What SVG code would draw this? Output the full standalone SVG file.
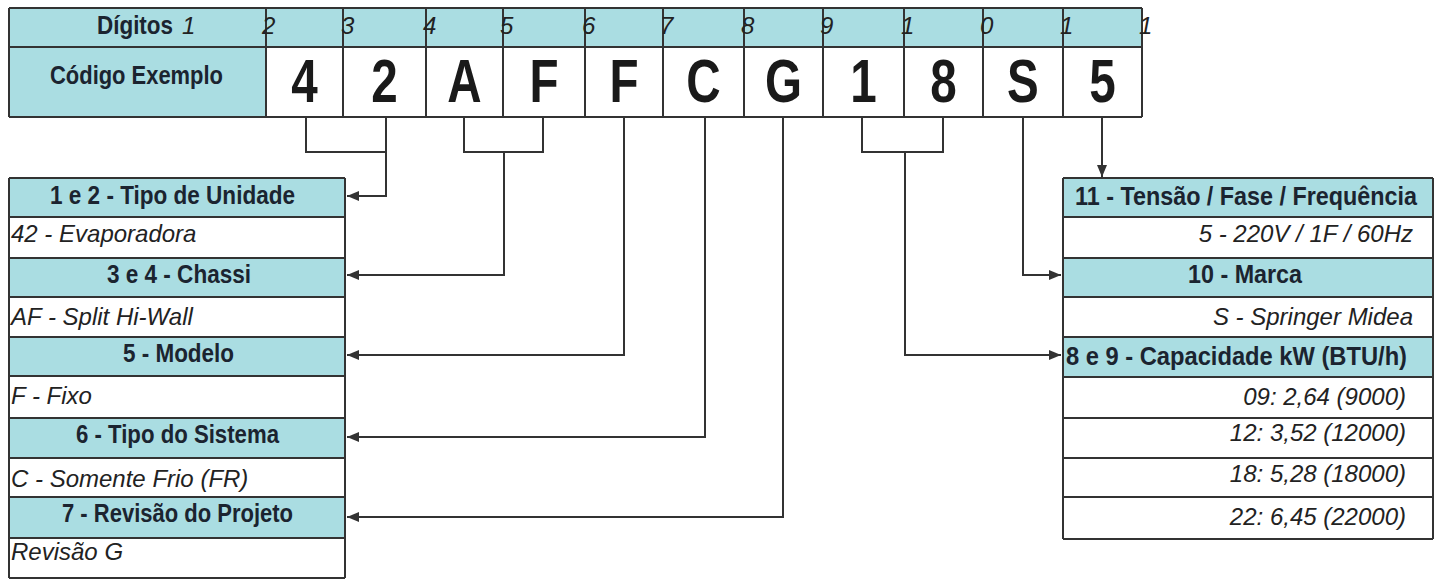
<svg xmlns="http://www.w3.org/2000/svg" width="1437" height="581" viewBox="0 0 1437 581">
<style>
.hd{fill:#aadde2}
.wh{fill:#ffffff}
.grid{stroke:#333;stroke-width:2;fill:none}
.bold{font-family:"Liberation Sans",Arial,sans-serif;font-weight:bold;font-size:25px;fill:#1b2430}
.big{font-family:"Liberation Sans",Arial,sans-serif;font-weight:bold;font-size:61px;fill:#1a1a1a;text-anchor:middle}
.it{font-family:"Liberation Sans",Arial,sans-serif;font-style:italic;font-size:24px;fill:#222}
.dg{font-family:"Liberation Sans",Arial,sans-serif;font-style:italic;font-size:24px;fill:#222}
.conn{stroke:#333;stroke-width:2;fill:none}
</style>
<defs>
<marker id="arr" markerUnits="userSpaceOnUse" markerWidth="12" markerHeight="10" refX="12" refY="5" orient="auto">
<path d="M0,0 L12,5 L0,10 z" fill="#333"/>
</marker>
</defs>
<rect width="1437" height="581" fill="#ffffff"/>

<g id="code-table">
<rect class="hd" x="9" y="8" width="1133" height="39"/>
<rect class="hd" x="9" y="47" width="257" height="70"/>
<rect class="wh" x="266" y="47" width="876" height="70"/>
<path class="grid" d="M9,8 H1142 M9,47 H1142 M9,117 H1142 M9,8 V117 M266,8 V117 M343,8 V117 M426,8 V117 M503,8 V117 M585,8 V117 M663,8 V117 M744,8 V117 M823,8 V117 M904,8 V117 M983,8 V117 M1063,8 V117 M1142,8 V117"/>
<text class="bold" x="97" y="34" textLength="76" lengthAdjust="spacingAndGlyphs">Dígitos</text>
<text class="dg" x="182" y="34">1</text>
<text class="dg" x="262" y="34">2</text>
<text class="dg" x="341" y="34">3</text>
<text class="dg" x="423" y="34">4</text>
<text class="dg" x="500" y="34">5</text>
<text class="dg" x="582" y="34">6</text>
<text class="dg" x="660" y="34">7</text>
<text class="dg" x="741" y="34">8</text>
<text class="dg" x="820" y="34">9</text>
<text class="dg" x="901" y="34">1</text>
<text class="dg" x="980" y="34">0</text>
<text class="dg" x="1060" y="34">1</text>
<text class="dg" x="1139" y="34">1</text>
<text class="bold" x="50" y="84" font-size="30" textLength="173" lengthAdjust="spacingAndGlyphs">Código Exemplo</text>
<g transform="scale(0.78,1)">
<text class="big" x="390.4" y="102">4</text>
<text class="big" x="492.9" y="102">2</text>
<text class="big" x="595.5" y="102">A</text>
<text class="big" x="697.4" y="102">F</text>
<text class="big" x="800" y="102">F</text>
<text class="big" x="901.9" y="102">C</text>
<text class="big" x="1004.5" y="102">G</text>
<text class="big" x="1107.1" y="102">1</text>
<text class="big" x="1209.6" y="102">8</text>
<text class="big" x="1311.5" y="102">S</text>
<text class="big" x="1413.5" y="102">5</text>
</g>
</g>

<g id="left-box">
<rect class="hd" x="9" y="178" width="336" height="39"/>
<rect class="hd" x="9" y="258" width="336" height="39"/>
<rect class="hd" x="9" y="337" width="336" height="39"/>
<rect class="hd" x="9" y="418" width="336" height="40"/>
<rect class="hd" x="9" y="497" width="336" height="41"/>
<path class="grid" d="M9,178 H345 M9,217 H345 M9,258 H345 M9,297 H345 M9,337 H345 M9,376 H345 M9,418 H345 M9,458 H345 M9,497 H345 M9,538 H345 M9,578 H345 M9,178 V578 M345,178 V578"/>
<text class="bold" x="50" y="204" textLength="245" lengthAdjust="spacingAndGlyphs">1 e 2 - Tipo de Unidade</text>
<text class="it" x="11" y="242">42 - Evaporadora</text>
<text class="bold" x="107" y="283" textLength="144" lengthAdjust="spacingAndGlyphs">3 e 4 - Chassi</text>
<text class="it" x="11" y="325">AF - Split Hi-Wall</text>
<text class="bold" x="123" y="362" textLength="111" lengthAdjust="spacingAndGlyphs">5 - Modelo</text>
<text class="it" x="11" y="404">F - Fixo</text>
<text class="bold" x="76" y="443" textLength="203" lengthAdjust="spacingAndGlyphs">6 - Tipo do Sistema</text>
<text class="it" x="11" y="487">C - Somente Frio (FR)</text>
<text class="bold" x="62" y="522" textLength="231" lengthAdjust="spacingAndGlyphs">7 - Revisão do Projeto</text>
<text class="it" x="11" y="560">Revisão G</text>
</g>

<g id="right-box">
<rect class="hd" x="1063" y="178" width="370" height="39"/>
<rect class="hd" x="1063" y="258" width="370" height="39"/>
<rect class="hd" x="1063" y="337" width="370" height="40"/>
<path class="grid" d="M1063,178 H1433 M1063,217 H1433 M1063,258 H1433 M1063,297 H1433 M1063,337 H1433 M1063,377 H1433 M1063,418 H1433 M1063,458 H1433 M1063,497 H1433 M1063,539 H1433 M1063,178 V539 M1433,178 V539"/>
<text class="bold" x="1075" y="205" font-size="24" textLength="342" lengthAdjust="spacingAndGlyphs">11 - Tensão / Fase / Frequência</text>
<text class="it" x="1413" y="242" text-anchor="end">5 - 220V / 1F / 60Hz</text>
<text class="bold" x="1188" y="283" textLength="114" lengthAdjust="spacingAndGlyphs">10 - Marca</text>
<text class="it" x="1413" y="325" text-anchor="end">S - Springer Midea</text>
<text class="bold" x="1066" y="365" textLength="341" lengthAdjust="spacingAndGlyphs">8 e 9 - Capacidade kW (BTU/h)</text>
<text class="it" x="1406" y="405" text-anchor="end">09: 2,64 (9000)</text>
<text class="it" x="1406" y="441" text-anchor="end">12: 3,52 (12000)</text>
<text class="it" x="1406" y="482" text-anchor="end">18: 5,28 (18000)</text>
<text class="it" x="1406" y="525" text-anchor="end">22: 6,45 (22000)</text>
</g>

<g id="connectors">
<path class="conn" d="M306,117 V152 H386"/>
<path class="conn" d="M386,117 V196 H347" marker-end="url(#arr)"/>
<path class="conn" d="M464,117 V152 H543 V117"/>
<path class="conn" d="M504,152 V275 H347" marker-end="url(#arr)"/>
<path class="conn" d="M624,117 V355 H347" marker-end="url(#arr)"/>
<path class="conn" d="M705,117 V437 H347" marker-end="url(#arr)"/>
<path class="conn" d="M783,117 V517 H347" marker-end="url(#arr)"/>
<path class="conn" d="M862,117 V152 H943 V117"/>
<path class="conn" d="M905,152 V355 H1061" marker-end="url(#arr)"/>
<path class="conn" d="M1023,117 V275 H1061" marker-end="url(#arr)"/>
<path class="conn" d="M1102,117 V177" marker-end="url(#arr)"/>
</g>
</svg>
